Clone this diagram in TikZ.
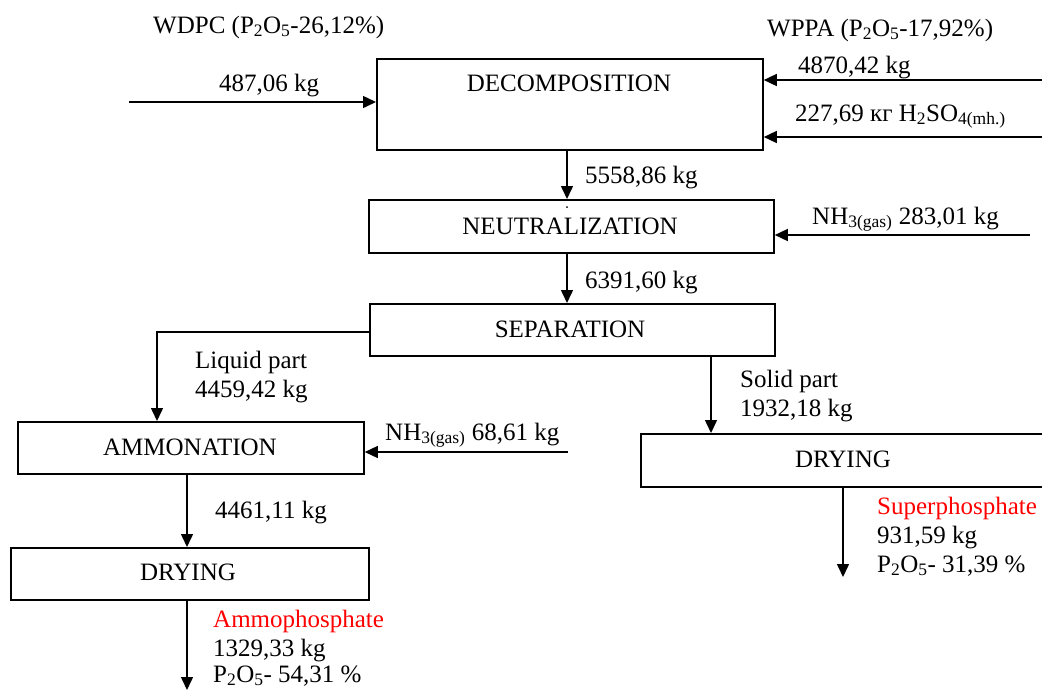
\documentclass[tikz,border=0pt]{standalone}
\usepackage{fontspec}
\setmainfont{Liberation Serif}
\usetikzlibrary{arrows.meta}
\begin{document}
\begin{tikzpicture}[x=1pt,y=-1pt,
  box/.style={draw, line width=1.8pt, inner sep=0pt, anchor=north west},
  flow/.style={line width=1.5pt, -{Triangle[length=13pt,width=12pt]}},
  txt/.style={inner sep=0pt, anchor=base west, font=\fontsize{25}{30}\selectfont},
  ctxt/.style={inner sep=0pt, anchor=base, font=\fontsize{25}{30}\selectfont},
  prod/.style={txt, text=red}]
\useasboundingbox (0,0) rectangle (1042,689);
% boxes
\node[box, minimum width=386pt, minimum height=91pt] (dec) at (376,58) {};
\node[box, minimum width=405pt, minimum height=53pt] (neu) at (368,199) {};
\node[box, minimum width=405pt, minimum height=52pt] (sep) at (369,303) {};
\node[box, minimum width=346pt, minimum height=52pt] (amm) at (17,421) {};
\node[box, minimum width=358pt, minimum height=52pt] (dry1) at (10,547) {};
\node[box, minimum width=420pt, minimum height=53pt] (dry2) at (640,433) {};
% box texts
\node[ctxt] (tdec) at (569,91) {DECOMPOSITION};
\node[ctxt] (tneu) at (570,234) {NEUTRALIZATION};
\fill (567,207) circle (1pt);
\node[ctxt] (tsep) at (570,337) {SEPARATION};
\node[ctxt] (tamm) at (190,455) {AMMONATION};
\node[ctxt] (tdry1) at (188,580) {DRYING};
\node[ctxt] (tdry2) at (843,467) {DRYING};
% free ends
\coordinate (in1) at (129,102);
\coordinate (in2) at (1042,80);
\coordinate (in3) at (1042,137);
\coordinate (in4) at (1030,235);
\coordinate (in5) at (568,452);
\coordinate (xm) at (567,0);
\coordinate (xl) at (157,332);
\coordinate (xs) at (711,0);
\coordinate (xa) at (187,0);
\coordinate (out1) at (187,690);
\coordinate (out2) at (843,577);
% connectors
\draw[flow] (in1) -- (in1 -| dec.west);
\draw[flow] (in2) -- (in2 -| dec.east);
\draw[flow] (in3) -- (in3 -| dec.east);
\draw[flow] (dec.south -| xm) -- (neu.north -| xm);
\draw[flow] (in4) -- (in4 -| neu.east);
\draw[flow] (neu.south -| xm) -- (sep.north -| xm);
\draw[flow] (xl -| sep.west) -- (xl) -- (amm.north -| xl);
\draw[flow] (sep.south -| xs) -- (dry2.north -| xs);
\draw[flow] (in5) -- (in5 -| amm.east);
\draw[flow] (amm.south -| xa) -- (dry1.north -| xa);
\draw[flow] (dry1.south -| xa) -- (out1);
\draw[flow] (dry2.south -| out2) -- (out2);
% labels
\node[txt] (l1) at (153,33) {WDPC (P\textsubscript{2}O\textsubscript{5}-26,12\%)};
\node[txt] (l2) at (219,91) {487,06 kg};
\node[txt] (l3) at (767,36) {WPPA (P\textsubscript{2}O\textsubscript{5}-17,92\%)};
\node[txt] (l4) at (798,73) {4870,42 kg};
\node[txt] (l5) at (795,121) {227,69 кг H\textsubscript{2}SO\textsubscript{4(mh.)}};
\node[txt] (l6) at (585,183) {5558,86 kg};
\node[txt] (l7) at (812,224) {NH\textsubscript{3(gas)} 283,01 kg};
\node[txt] (l8) at (585,288) {6391,60 kg};
\node[txt] (l9) at (195,368) {Liquid part};
\node[txt] (l10) at (195,397) {4459,42 kg};
\node[txt] (l11) at (740,387) {Solid part};
\node[txt] (l12) at (740,416) {1932,18 kg};
\node[txt] (l13) at (385,440) {NH\textsubscript{3(gas)} 68,61 kg};
\node[txt] (l14) at (215,518) {4461,11 kg};
\node[prod] (l15) at (877,514) {Superphosphate};
\node[txt] (l16) at (877,543) {931,59 kg};
\node[txt] (l17) at (877,572) {P\textsubscript{2}O\textsubscript{5}- 31,39 \%};
\node[prod] (l18) at (213,627) {Ammophosphate};
\node[txt] (l19) at (213,656) {1329,33 kg};
\node[txt] (l20) at (213,682) {P\textsubscript{2}O\textsubscript{5}- 54,31 \%};
\end{tikzpicture}
\end{document}
